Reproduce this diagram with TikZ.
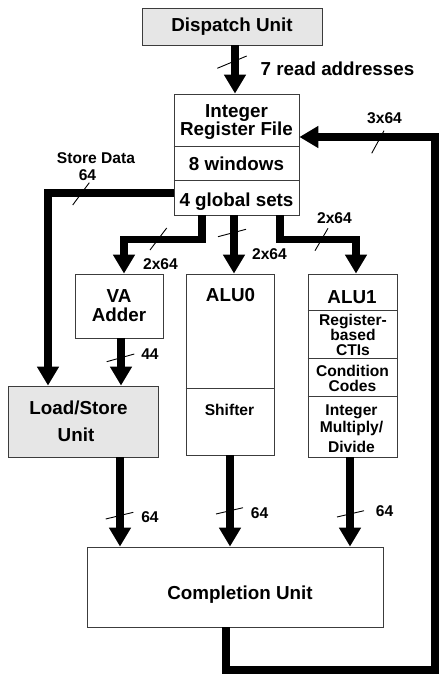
\documentclass[tikz,border=0pt]{standalone}
\usepackage{fontspec}
\setmainfont{Liberation Sans}
\usetikzlibrary{arrows.meta}
\definecolor{boxgray}{RGB}{230,230,230}
\definecolor{edge}{RGB}{60,60,60}
\begin{document}
\begin{tikzpicture}[x=1pt,y=-1pt,
  box/.style={draw=edge, line width=0.8pt, inner sep=0pt},
  big/.style={font=\bfseries\fontsize{18.8}{18}\selectfont, inner sep=0pt, anchor=base},
  small/.style={font=\bfseries\fontsize{15.6}{15.5}\selectfont, inner sep=0pt, anchor=base},
  bus/.style={line width=7.5pt, -{Triangle[length=19pt,width=21pt]}},
  tick/.style={line width=0.9pt},
  divider/.style={draw=edge, line width=0.8pt}]
\useasboundingbox (0,0) rectangle (440,677);

% boxes
\node[box, fill=boxgray, minimum width=180pt, minimum height=37pt] (disp) at (232,26.5) {};
\node[box, minimum width=125pt, minimum height=121pt] (irf) at (236.5,154.5) {};
\node[box, minimum width=88pt, minimum height=64pt] (va) at (119,306) {};
\node[box, minimum width=88pt, minimum height=181pt] (alu0) at (230,364.5) {};
\node[box, minimum width=89pt, minimum height=183pt] (alu1) at (352.5,365.5) {};
\node[box, fill=boxgray, minimum width=150pt, minimum height=71pt] (ls) at (83,421.5) {};
\node[box, minimum width=296pt, minimum height=80pt] (comp) at (235,587) {};

% dividers
\draw[divider] (irf.west |- 0,146) -- (irf.east |- 0,146);
\draw[divider] (irf.west |- 0,180) -- (irf.east |- 0,180);
\draw[divider] (alu0.west |- 0,388) -- (alu0.east |- 0,388);
\draw[divider] (alu1.west |- 0,310) -- (alu1.east |- 0,310);
\draw[divider] (alu1.west |- 0,358) -- (alu1.east |- 0,358);
\draw[divider] (alu1.west |- 0,396) -- (alu1.east |- 0,396);

% box texts
\node[big] (dispt) at (232,31.8) {Dispatch Unit};
\node[big] (irf1) at (236.5,117) {Integer};
\node[big] (irf2) at (236.5,135) {Register File};
\node[big] (irf3) at (236.5,170.7) {8 windows};
\node[big] (irf4) at (236.5,206) {4 global sets};
\node[big] (vat1) at (119,302.7) {VA};
\node[big] (vat2) at (119,321.7) {Adder};
\node[big] (alu0t) at (230.5,301.7) {ALU0};
\node[small] (shift) at (229.5,415) {Shifter};
\node[big] (alu1t) at (352,303.3) {ALU1};
\node[small] (a1a) at (353,325) {Register-};
\node[small] (a1b) at (353,340) {based};
\node[small] (a1c) at (353,355.7) {CTIs};
\node[small] (a1d) at (352.5,376.7) {Condition};
\node[small] (a1e) at (352.5,391) {Codes};
\node[small] (a1f) at (351.5,415) {Integer};
\node[small] (a1g) at (351.5,432.7) {Multiply/};
\node[small] (a1h) at (351.5,452.3) {Divide};
\node[big] (ls1) at (78.5,414.3) {Load/Store};
\node[big] (ls2) at (76,441.7) {Unit};
\node[big] (compt) at (240,599.3) {Completion Unit};

% connectors
\coordinate (fb) at (435,670);
\draw[bus] ([xshift=3pt]disp.south) -- ([xshift=3pt]disp.south |- irf.north);
\draw[bus] ([xshift=-9pt]comp.south) |- (fb) |- ([yshift=17.5pt]irf.east);
\draw[bus] ([yshift=-38.5pt]irf.west) -| ([xshift=-35pt]ls.north);
\draw[bus] ([xshift=-34.5pt]irf.south) -- ++(0,24) -| ([xshift=5pt]va.north);
\draw[bus] ([xshift=-2.5pt]irf.south) -- ([xshift=-2.5pt]irf.south |- alu0.north);
\draw[bus] ([xshift=43.5pt]irf.south) -- ++(0,24) -| ([xshift=3.5pt]alu1.north);
\draw[bus] ([xshift=2pt]va.south) -- ([xshift=2pt]va.south |- ls.north);
\draw[bus] ([xshift=37pt]ls.south) -- ([xshift=37pt]ls.south |- comp.north);
\draw[bus] (alu0.south) -- (alu0.south |- comp.north);
\draw[bus] ([xshift=-2.5pt]alu1.south) -- ([xshift=-2.5pt]alu1.south |- comp.north);

% slashes
\draw[tick] (217.3,68.3) -- (246.7,56);
\draw[tick] (371.7,153.3) -- (384,130.7);
\draw[tick] (72.7,205) -- (89.3,182.7);
\draw[tick] (150,250) -- (166.7,228);
\draw[tick] (218,236.7) -- (246,229.3);
\draw[tick] (315,250.7) -- (328,228.3);
\draw[tick] (106.7,361.7) -- (134.3,354);
\draw[tick] (105.7,519) -- (133.3,512.3);
\draw[tick] (216,514) -- (243,507.7);
\draw[tick] (337,517) -- (364,510.7);

% labels
\node[big] (lread) at (337.5,75.5) {7 read addresses};
\node[small] (lfb) at (384.5,123.3) {3x64};
\node[small] (lsd1) at (96,163.3) {Store Data};
\node[small] (lsd2) at (87.5,180.7) {64};
\node[small] (lva) at (160.5,269.3) {2x64};
\node[small] (la0) at (269.5,259) {2x64};
\node[small] (la1) at (334.5,223.3) {2x64};
\node[small] (l44) at (150,359.3) {44};
\node[small] (lo1) at (150,522.3) {64};
\node[small] (lo2) at (259.5,518.3) {64};
\node[small] (lo3) at (384.5,516) {64};
\end{tikzpicture}
\end{document}
